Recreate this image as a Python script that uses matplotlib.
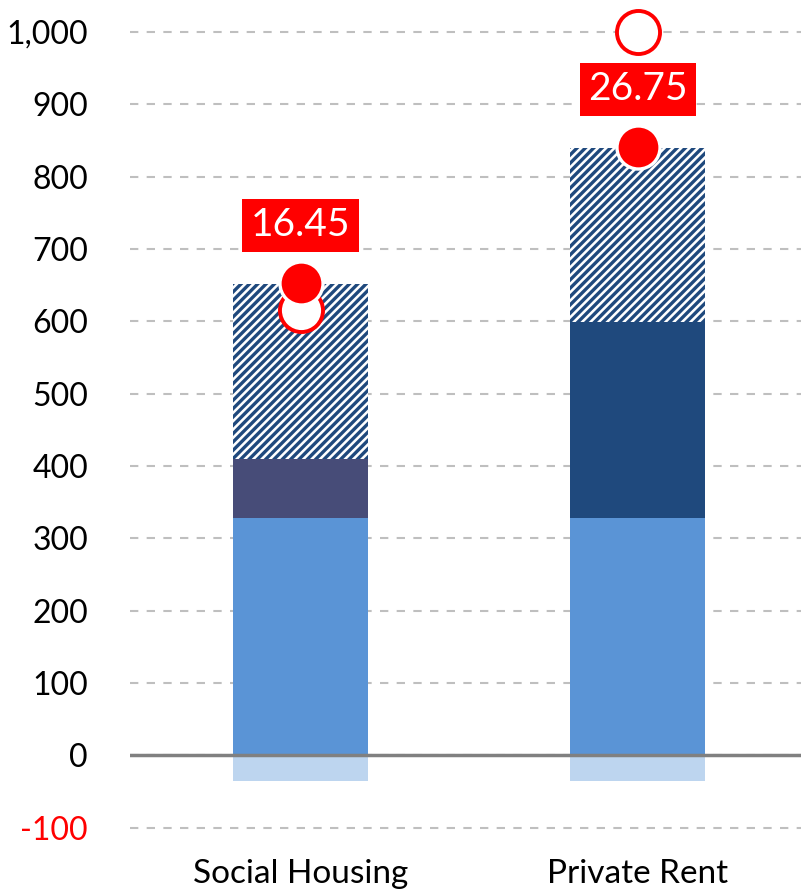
import matplotlib
matplotlib.use("Agg")
import matplotlib.pyplot as plt
from matplotlib.ticker import FuncFormatter

plt.rcParams['font.family'] = ['Lato', 'DejaVu Sans']
plt.rcParams['hatch.linewidth'] = 2.4

categories = ["Social Housing", "Private Rent"]
below_zero = [-36, -36]
base = [328, 328]
middle = [81, 271]
hatched = [242, 241]
filled_marker = [653, 841]
hollow_marker = [615, 1000]
label_texts = ["16.45", "26.75"]
yticks = [-100, 0, 100, 200, 300, 400, 500, 600, 700, 800, 900, 1000]

fig = plt.figure(figsize=(8.01, 8.92), dpi=100)
ax = fig.add_axes([0.162, 0.056, 0.838, 0.9406])

x = list(range(len(categories)))
w = 0.4
ax.bar(x, below_zero, width=w, color='#BDD5EF', zorder=2)
ax.bar(x, base, width=w, color='#5A94D6', zorder=2)
ax.bar(x[0], middle[0], bottom=base[0], width=w, color='#474C78', zorder=2)
ax.bar(x[1], middle[1], bottom=base[1], width=w, color='#1F497D', zorder=2)
bott = [b + m for b, m in zip(base, middle)]
ax.bar(x, hatched, bottom=bott, width=w, facecolor='white', hatch='////',
       edgecolor='#1F497D', linewidth=0, zorder=2)

ax.axhline(0, color='#808080', lw=2.5, zorder=3)

ax.plot(x, hollow_marker, 'o', ms=31, mfc='white', mec='#FF0000', mew=2.8,
        linestyle='none', zorder=4)
ax.plot(x, filled_marker, 'o', ms=31, mfc='#FF0000', mec='white', mew=2.4,
        linestyle='none', zorder=5)

for xi, fv, t in zip(x, filled_marker, label_texts):
    ax.text(xi, fv + 80, t, ha='center', va='center', color='white', fontsize=28,
            bbox=dict(boxstyle='square,pad=0.22', fc='#FF0000', ec='none'), zorder=6)

ax.set_xlim(-0.507, 1.484)
ax.set_ylim(-120, 1040)
ax.set_yticks(yticks)
ax.yaxis.set_major_formatter(FuncFormatter(lambda v, p: f"{int(v):,}"))
ax.set_xticks(x)
ax.set_xticklabels(categories)
ax.tick_params(axis='y', length=0, pad=30, labelsize=23)
ax.tick_params(axis='x', length=0, pad=12, labelsize=24)
for lbl in ax.get_yticklabels():
    if lbl.get_text().startswith('-'):
        lbl.set_color('#FF0000')
ax.grid(axis='y', color='#BFBFBF', linestyle=(0, (4, 4)), lw=1.5, zorder=0)
ax.set_axisbelow(True)
for s in ax.spines.values():
    s.set_visible(False)

fig.savefig('out.png', dpi=100)
